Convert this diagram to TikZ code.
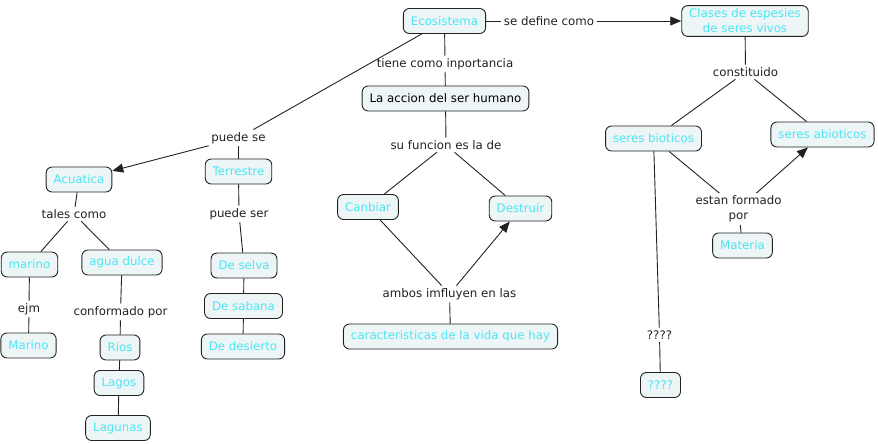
\documentclass[tikz,border=0pt]{standalone}
\usepackage{fontspec}
\setmainfont{DejaVu Sans}
\usetikzlibrary{arrows.meta, positioning, shapes.misc}

\definecolor{conceptfill}{HTML}{EDF5F7}
\definecolor{concepttext}{HTML}{4CE6F2}
\definecolor{linkgray}{HTML}{222222}

\tikzset{
    concept/.style={draw=linkgray, line width=0.9pt, rounded corners=6pt, fill=conceptfill,
        text=concepttext, inner xsep=7.5pt, minimum height=25pt, align=center,
        font=\fontsize{11.8}{15}\selectfont},
    linkword/.style={inner sep=2.5pt, align=center, text=linkgray,
        font=\fontsize{11.8}{15}\selectfont},
    link/.style={draw=linkgray, line width=0.9pt},
    linkarrow/.style={link, -{Triangle[length=11pt,width=9pt]}}
}

\begin{document}
\begin{tikzpicture}[x=1pt,y=-1pt]
    \useasboundingbox (0,0) rectangle (878,444);
    % centre column
    \node[concept] (ecosistema) at (444.5,21) {Ecosistema};
    \node[linkword] (define) at (549,21) {se define como};
    \node[concept] (clases) at (745,21) {Clases de espesies\\de seres vivos};
    \node[linkword] (importancia) at (445,64) {tiene como inportancia};
    \node[concept, text=black] (accion) at (445.5,98.5) {La accion del ser humano};
    \node[linkword] (funcion) at (446,145) {su funcion es la de};
    \node[concept] (canbiar) at (368,207) {Canbiar};
    \node[concept] (destruir) at (520.5,208.5) {Destruir};
    \node[linkword] (influyen) at (449.5,294) {ambos imfluyen en las};
    \node[concept] (caract) at (450.5,336.5) {caracteristicas de la vida que hay};
    % left branch
    \node[linkword] (puedese) at (238.5,138) {puede se};
    \node[concept] (acuatica) at (79,179.5) {Acuatica};
    \node[concept] (terrestre) at (238.5,171.5) {Terrestre};
    \node[linkword] (puedeser) at (239,214) {puede ser};
    \node[concept] (selva) at (244,265.5) {De selva};
    \node[concept] (sabana) at (243.5,306) {De sabana};
    \node[concept] (desierto) at (243,346.5) {De desierto};
    \node[linkword] (tales) at (74,214) {tales como};
    \node[concept] (marino) at (29.5,264.5) {marino};
    \node[concept] (aguadulce) at (122,262.5) {agua dulce};
    \node[linkword] (ejm) at (29,309) {ejm};
    \node[concept] (marinoej) at (28.5,345.5) {Marino};
    \node[linkword] (conformado) at (120.5,312) {conformado por};
    \node[concept] (rios) at (120,347.5) {Rios};
    \node[concept] (lagos) at (119,383) {Lagos};
    \node[concept] (lagunas) at (118,428) {Lagunas};
    % right branch
    \node[linkword] (constituido) at (745.5,72) {constituido};
    \node[concept] (bioticos) at (653.5,138.5) {seres bioticos};
    \node[concept] (abioticos) at (822.5,134.5) {seres abioticos};
    \node[linkword] (formado) at (738.5,209) {estan formado\\por};
    \node[concept] (materia) at (742.5,245.5) {Materia};
    \node[linkword] (pregunta) at (659.5,335) {????};
    \node[concept] (incognita) at (660.5,385) {????};

    \foreach \a/\b in {ecosistema/define, ecosistema/importancia, importancia/accion,
        accion/funcion, funcion/canbiar, funcion/destruir, canbiar/influyen, influyen/caract,
        ecosistema/puedese, puedese/terrestre, terrestre/puedeser, puedeser/selva,
        selva/sabana, sabana/desierto, acuatica/tales, tales/marino, tales/aguadulce,
        marino/ejm, ejm/marinoej, aguadulce/conformado, conformado/rios, rios/lagos,
        lagos/lagunas, clases/constituido, constituido/bioticos, constituido/abioticos,
        bioticos/formado, formado/materia, bioticos/pregunta, pregunta/incognita}
        \draw[link] (\a) -- (\b);
    \foreach \a/\b in {define/clases, influyen/destruir, puedese/acuatica, formado/abioticos}
        \draw[linkarrow] (\a) -- (\b);
\end{tikzpicture}
\end{document}
